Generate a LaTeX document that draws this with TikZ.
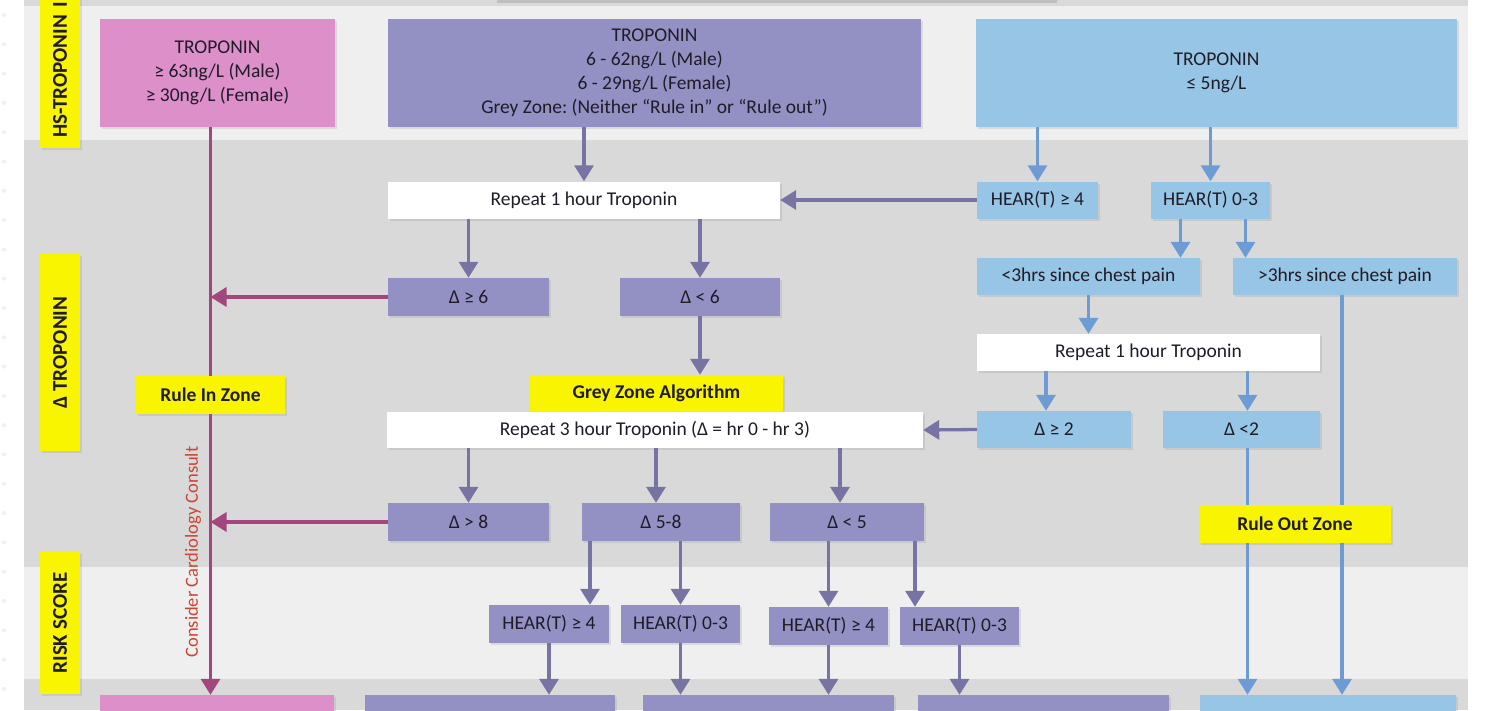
\documentclass[tikz,border=0pt]{standalone}
\usepackage{fontspec}
\setmainfont{Carlito}
\frenchspacing
\usetikzlibrary{arrows.meta,shadows}
\definecolor{pinkbox}{HTML}{DD8FC9}
\definecolor{purbox}{HTML}{9391C4}
\definecolor{bluebox}{HTML}{97C5E5}
\definecolor{yel}{HTML}{F9F500}
\definecolor{bandlt}{HTML}{EFEFEF}
\definecolor{banddk}{HTML}{D9D9D9}
\definecolor{purarrow}{HTML}{7774A3}
\definecolor{bluearrow}{HTML}{6C9CD3}
\definecolor{pinkarrow}{HTML}{A4467E}
\definecolor{consred}{HTML}{CC4433}
\definecolor{txt}{HTML}{1F1C28}

\begin{document}
\begin{tikzpicture}[x=1pt,y=-1pt,
    font=\fontsize{19.5}{24}\selectfont,
    sz/.style 2 args={minimum width=#1,minimum height=#2},
    bx/.style={inner sep=0pt,align=center,text=txt,
      drop shadow={opacity=.18,shadow xshift=2pt,shadow yshift=-2pt}},
    pk/.style={bx,fill=pinkbox},
    pu/.style={bx,fill=purbox},
    bl/.style={bx,fill=bluebox},
    wh/.style={bx,fill=white},
    yb/.style={bx,fill=yel,font=\fontsize{19.5}{24}\selectfont\bfseries},
    lane/.style={yb,rotate=90,font=\fontsize{21}{24}\selectfont\bfseries},
    tip/.style={-{Triangle[width=19pt,length=16pt]}},
    pa/.style={draw=purarrow,line width=3.3pt,tip},
    ba/.style={draw=bluearrow,line width=3.3pt,tip},
    ka/.style={draw=pinkarrow,line width=3.3pt,tip}]
  \path[use as bounding box] (0,0) rectangle (1488,710);
  \clip (0,0) rectangle (1488,710);
  \fill[white] (0,0) rectangle (1488,710);
  \foreach \i in {0,...,23}
    \fill[black!6] (4,15+29.3*\i) circle (2);
  \fill[banddk] (24,0) rectangle (1468,6);
  \fill[black!25] (497,0) rectangle (1057,3);
  \fill[bandlt] (24,6) rectangle (1468,140);
  \fill[banddk] (24,140) rectangle (1468,567);
  \fill[bandlt] (24,567) rectangle (1468,679);
  \fill[banddk] (24,679) rectangle (1468,710);

  \node[lane,anchor=west,minimum height=40,text width=180,inner xsep=10pt,align=left] (lane1) at (60,148) {HS-TROPONIN I};
  \node[lane,sz={197}{40}] (lane2) at (60,352.5) {Δ TROPONIN};
  \node[lane,sz={142}{40}] (lane3) at (60,623) {RISK SCORE};

  \node[pk,sz={235}{108}] (high) at (217.5,73) {TROPONIN\\≥ 63ng/L (Male)\\≥ 30ng/L (Female)};
  \node[pu,sz={533}{108}] (grey) at (654.5,73) {TROPONIN\\6 - 62ng/L (Male)\\6 - 29ng/L (Female)\\Grey Zone: (Neither “Rule in” or “Rule out”)};
  \node[bl,sz={481}{108}] (low) at (1216.5,73) {TROPONIN\\≤ 5ng/L};

  \node[wh,sz={392}{37}] (rep1) at (584,200) {Repeat 1 hour Troponin};
  \node[bl,sz={121}{37}] (hearA) at (1037.5,200) {HEAR(T) ≥ 4};
  \node[bl,sz={119}{37}] (hearB) at (1210.5,200) {HEAR(T) 0-3};
  \node[bl,sz={223}{37}] (early) at (1088.5,276.5) {<3hrs since chest pain};
  \node[bl,sz={224}{37}] (late) at (1345,276.5) {>3hrs since chest pain};

  \node[pu,sz={161}{38}] (d6up) at (468.5,297) {Δ ≥ 6};
  \node[pu,sz={160}{38}] (d6lo) at (700,297) {Δ < 6};
  \node[wh,sz={343}{37}] (rep1b) at (1148.5,352.5) {Repeat 1 hour Troponin};

  \node[yb,sz={253}{37}] (gza) at (656.5,393.5) {Grey Zone Algorithm};
  \node[wh,sz={536}{36}] (rep3) at (655,430) {Repeat 3 hour Troponin (Δ = hr 0 - hr 3)};
  \node[bl,sz={154}{37}] (d2up) at (1054,429.5) {Δ ≥ 2};
  \node[bl,sz={157}{37}] (d2lo) at (1241.5,429.5) {Δ <2};

  \node[pu,sz={161}{38}] (d8) at (468.5,522) {Δ > 8};
  \node[pu,sz={158}{38}] (d58) at (661,522) {Δ 5-8};
  \node[pu,sz={154}{38}] (d5) at (847,522) {Δ < 5};

  \node[pu,sz={120}{38}] (r1) at (549,624) {HEAR(T) ≥ 4};
  \node[pu,sz={119}{38}] (r2) at (680.5,624) {HEAR(T) 0-3};
  \node[pu,sz={119}{38}] (r3) at (828.5,626) {HEAR(T) ≥ 4};
  \node[pu,sz={119}{38}] (r4) at (959.5,626) {HEAR(T) 0-3};

  \node[pk,sz={234}{60}] (b0) at (217,725) {};
  \node[pu,sz={250}{60}] (b1) at (490,725) {};
  \node[pu,sz={251}{60}] (b2) at (768.5,725) {};
  \node[pu,sz={251}{60}] (b3) at (1043.5,725) {};
  \node[bl,sz={256}{60}] (b4) at (1328,725) {};

  \coordinate (rail) at (210.5,127);

  \draw[pa] (grey.south -| rep1) -- (rep1.north);
  \draw[pa] (hearA.west) -- (rep1.east);
  \draw[pa] (rep1.south -| d6up) -- (d6up.north);
  \draw[pa] (rep1.south -| d6lo) -- (d6lo.north);
  \draw[pa] (d6lo.south) -- (d6lo.south |- gza.north);
  \draw[pa] (d2up.west) -- (rep3.east);
  \draw[pa] (rep3.south -| d8) -- (d8.north);
  \draw[pa] ([xshift=-5pt]rep3.south -| d58) -- ([xshift=-5pt]d58.north);
  \draw[pa] ([xshift=-7pt]rep3.south -| d5) -- ([xshift=-7pt]d5.north);
  \draw[pa] ([xshift=-71pt]d58.south) -- ([xshift=-71pt]d58.south |- r1.north);
  \draw[pa] (d58.south -| r2) -- (r2.north);
  \draw[pa] (d5.south -| r3) -- (r3.north);
  \draw[pa] ([xshift=68pt]d5.south) -- ([xshift=68pt]d5.south |- r4.north);
  \draw[pa] (r1.south) -- (r1.south |- b1.north);
  \draw[pa] (r2.south) -- (r2.south |- b2.north);
  \draw[pa] (r3.south) -- (r3.south |- b2.north);
  \draw[pa] (r4.south) -- (r4.south |- b3.north);

  \draw[ba] (low.south -| hearA) -- (hearA.north);
  \draw[ba] (low.south -| hearB) -- (hearB.north);
  \draw[ba] ([xshift=-30pt]hearB.south) -- ([xshift=-30pt]hearB.south |- early.north);
  \draw[ba] ([xshift=35pt]hearB.south) -- ([xshift=35pt]hearB.south |- late.north);
  \draw[ba] (early.south) -- (early.south |- rep1b.north);
  \draw[ba] ([xshift=-8pt]rep1b.south -| d2up) -- ([xshift=-8pt]d2up.north);
  \draw[ba] ([xshift=6pt]rep1b.south -| d2lo) -- ([xshift=6pt]d2lo.north);
  \draw[ba] ([xshift=6pt]d2lo.south) -- ([xshift=6pt]d2lo.south |- b4.north);
  \draw[ba] ([xshift=-3pt]late.south) -- ([xshift=-3pt]late.south |- b4.north);

  \draw[ka] (rail) -- (rail |- b0.north);
  \draw[ka] (d6up.west) -- (d6up.west -| rail);
  \draw[ka] (d8.west) -- (d8.west -| rail);

  \node[yb,sz={149}{38}] (rulein) at (210.5,395) {Rule In Zone};
  \node[yb,sz={192}{38}] (ruleout) at (1295,524) {Rule Out Zone};
  \node[rotate=90,text=consred,font=\fontsize{18.5}{22}\selectfont] (cons) at (193,552) {Consider Cardiology Consult};
\end{tikzpicture}
\end{document}
